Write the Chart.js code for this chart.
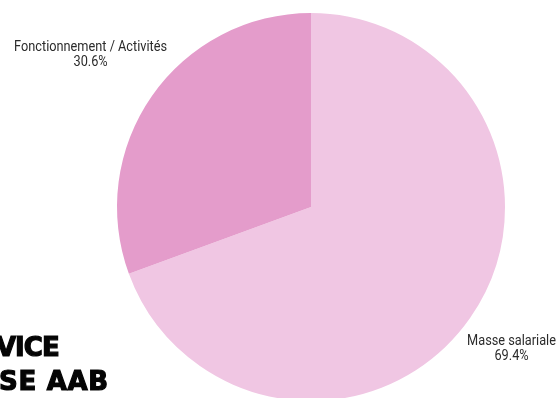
<!DOCTYPE html>
<html>
<head>
<meta charset="utf-8">
<script src="https://cdn.jsdelivr.net/npm/chart.js@4/dist/chart.umd.min.js"></script>
<style>
  html, body { margin: 0; padding: 0; background: #ffffff; overflow: hidden; }
  #frame { position: relative; width: 556px; height: 398px; overflow: hidden; }
  #wrap { position: absolute; left: 0; top: 0; width: 556px; height: 414px; }
  .banner {
    position: absolute; margin: 0;
    font-family: "DejaVu Sans", sans-serif; font-weight: bold;
    font-size: 26px; line-height: 26px; color: #050505;
    -webkit-text-stroke: 1.2px #050505;
    white-space: nowrap;
  }
</style>
</head>
<body>
<div id="frame">
  <div id="wrap"><canvas id="pie"></canvas></div>
  <div class="banner" style="left:-4px; top:334px; letter-spacing:-1px;">VICE</div>
  <div class="banner" style="left:-1px; top:368px; letter-spacing:0.7px;">SE AAB</div>
</div>
<script>
// Budget split (percent)
const categories = ["Masse salariale", "Fonctionnement / Activités"];
const shares = [69.4, 30.6];
const sliceColors = ["#f0c6e3", "#e49ccb"];

// Outside labels: name on first line, percentage below. Each two-line box is
// centred on its slice's mid-angle ray and pushed out until its corner nearest
// the pie sits a few pixels past the rim. Text is slightly condensed.
const outsideLabels = {
  id: "outsideLabels",
  afterDatasetsDraw(chart) {
    const ctx = chart.ctx;
    const meta = chart.getDatasetMeta(0);
    const data = chart.data.datasets[0].data;
    const squeeze = 0.91;
    ctx.save();
    ctx.font = "14px Roboto, sans-serif";
    ctx.fillStyle = "#2b2b2b";
    ctx.textAlign = "center";
    ctx.textBaseline = "alphabetic";
    const lineH = 15;
    const gap = 6;
    meta.data.forEach((arc, i) => {
      const p = arc.getProps(["x", "y", "startAngle", "endAngle", "outerRadius"], true);
      const mid = (p.startAngle + p.endAngle) / 2;
      const dx = Math.cos(mid), dy = Math.sin(mid);
      const l1 = chart.data.labels[i];
      const l2 = data[i].toFixed(1) + "%";
      const hw = squeeze * Math.max(ctx.measureText(l1).width, ctx.measureText(l2).width) / 2;
      const hh = lineH;
      const qx = -Math.sign(dx) * hw, qy = -Math.sign(dy) * hh;
      const rho = p.outerRadius + gap;
      const dq = dx * qx + dy * qy;
      const t = -dq + Math.sqrt(dq * dq - (qx * qx + qy * qy) + rho * rho);
      const cx = p.x + dx * t;
      const cy = p.y + dy * t;
      ctx.save();
      ctx.translate(cx, cy);
      ctx.scale(squeeze, 1);
      ctx.fillText(l1, 0, -2);
      ctx.fillText(l2, 0, -2 + lineH);
      ctx.restore();
    });
    ctx.restore();
  }
};

new Chart(document.getElementById("pie"), {
  type: "pie",
  data: {
    labels: categories,
    datasets: [{
      data: shares,
      backgroundColor: sliceColors,
      borderWidth: 0
    }]
  },
  options: {
    responsive: true,
    maintainAspectRatio: false,
    animation: false,
    layout: { padding: { top: 13, bottom: 13, left: 66, right: 0 } },
    plugins: {
      legend: { display: false },
      tooltip: { enabled: false }
    }
  },
  plugins: [outsideLabels]
});
</script>
</body>
</html>
